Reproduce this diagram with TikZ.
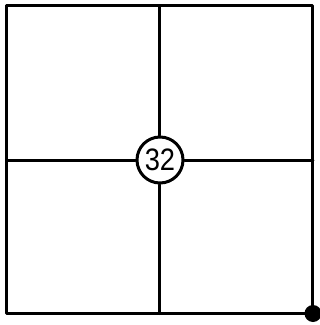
\documentclass[tikz,border=0pt]{standalone}
\usepackage{fontspec}
\setsansfont{Liberation Sans}

\begin{document}
\begin{tikzpicture}[
    x=1pt, y=-1pt,
    % thick frame and grid lines
    gridLine/.style={line width=3pt, line cap=round, line join=round},
    % circled number at the centre
    numCircle/.style={circle, draw, line width=3pt, fill=white, inner sep=0pt,
        minimum size=46pt, font=\sffamily\fontsize{31}{31}\selectfont},
    cornerDot/.style={circle, fill=black, inner sep=0pt, minimum size=17pt}
]
    \useasboundingbox (0,0) rectangle (320,325);

    % outer square
    \coordinate (tl) at (6.5,5.5);
    \coordinate (br) at (313,313.5);
    \draw[gridLine] (tl) rectangle (br);

    % middle of each side
    \coordinate (top) at (160,5.5);
    \coordinate (bottom) at (160,313.5);
    \coordinate (left) at (6.5,160);
    \coordinate (right) at (313,160);

    % the circled number
    \node[numCircle] (num) at (160,160) {\scalebox{0.88}[1]{32}};

    % cross lines to the circle
    \draw[gridLine] (top) -- (num);
    \draw[gridLine] (bottom) -- (num);
    \draw[gridLine] (left) -- (num);
    \draw[gridLine] (right) -- (num);

    % dot on the bottom right corner
    \node[cornerDot] (dot) at (br) {};
\end{tikzpicture}
\end{document}
